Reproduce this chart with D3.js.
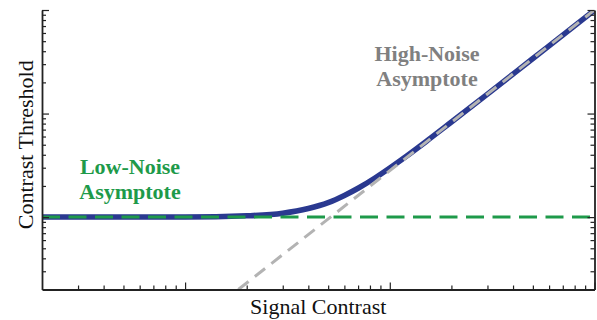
<!DOCTYPE html>
<html>
<head>
<meta charset="utf-8">
<script src="https://cdn.jsdelivr.net/npm/d3@7"></script>
<style>
  html, body { margin: 0; padding: 0; background: #fff; }
  svg { display: block; }
  text { font-family: "Liberation Serif", "Times New Roman", serif; }
</style>
</head>
<body>
<svg id="chart" width="597" height="320"></svg>
<script>
// Threshold-versus-contrast curve with its two asymptotes (log-log axes, unlabeled ticks)
const signalContrast    = [0.002, 0.005, 0.01, 0.02, 0.03, 0.04, 0.05, 0.06, 0.07, 0.085, 0.1, 0.12, 0.15, 0.2, 0.3, 0.5, 0.7, 1];
const contrastThreshold = [0.0100, 0.0100, 0.0100, 0.0103, 0.0109, 0.0121, 0.0138, 0.0162, 0.0190, 0.0240, 0.0298, 0.0385, 0.0535, 0.0828, 0.154, 0.340, 0.573, 0.995];

const lowNoiseX  = [0.002, 1];
const lowNoiseY  = [0.01, 0.01];
const highNoiseX = [0.0182, 1];
const highNoiseY = [0.002, 1];

const majorTicks = [0.01, 0.1, 1];
const minorTicks = [0.003, 0.004, 0.005, 0.006, 0.007, 0.008, 0.009,
                    0.02, 0.03, 0.04, 0.05, 0.06, 0.07, 0.08, 0.09,
                    0.2, 0.3, 0.4, 0.5, 0.6, 0.7, 0.8, 0.9];

const xDomain = [0.002, 1];
const yDomain = [0.002, 1];

const M = { left: 42, right: 594.5, top: 10, bottom: 289.5 };

const svg = d3.select("#chart");
const x = d3.scaleLog().domain(xDomain).range([M.left, M.right]);
const y = d3.scaleLog().domain(yDomain).range([M.bottom, M.top]);

svg.append("defs").append("clipPath").attr("id", "plot")
  .append("rect").attr("x", M.left).attr("y", M.top)
  .attr("width", M.right - M.left).attr("height", M.bottom - M.top);

const plot = svg.append("g").attr("clip-path", "url(#plot)");

// Full threshold curve
const curve = d3.line().x(d => x(d[0])).y(d => y(d[1])).curve(d3.curveMonotoneX);
plot.append("path")
  .datum(d3.zip(signalContrast, contrastThreshold))
  .attr("d", curve)
  .attr("fill", "none")
  .attr("stroke", "#2a3990")
  .attr("stroke-width", 5.5)
  .attr("stroke-linecap", "butt");

const straight = d3.line().x(d => x(d[0])).y(d => y(d[1]));

// Low-noise asymptote
plot.append("path")
  .datum(d3.zip(lowNoiseX, lowNoiseY))
  .attr("d", straight)
  .attr("fill", "none")
  .attr("stroke", "#1e9a4a")
  .attr("stroke-width", 3)
  .attr("stroke-dasharray", "18 8.5");

// High-noise asymptote
plot.append("path")
  .datum(d3.zip(highNoiseX, highNoiseY))
  .attr("d", straight)
  .attr("fill", "none")
  .attr("stroke", "#b3b3b3")
  .attr("stroke-width", 3)
  .attr("stroke-dasharray", "13 8");

// Axes: ticks point inward, no tick labels
const axisColor = "#222";
function styleAxis(g) {
  g.selectAll("path.domain").attr("stroke", axisColor).attr("stroke-width", 1.8);
  g.selectAll(".tick line").attr("stroke", axisColor).attr("stroke-width", 1.2);
  g.selectAll(".tick text").remove();
}

function drawAxis(maker, scale, transform) {
  const g1 = svg.append("g").attr("transform", transform)
    .call(maker(scale).tickValues(minorTicks).tickSize(-4).tickSizeOuter(0).tickFormat(""));
  styleAxis(g1);
  const g2 = svg.append("g").attr("transform", transform)
    .call(maker(scale).tickValues(majorTicks).tickSize(-7).tickSizeOuter(0).tickFormat(""));
  styleAxis(g2);
  g2.select("path.domain").remove();
}

drawAxis(d3.axisBottom, x, `translate(0,${M.bottom})`);
drawAxis(d3.axisLeft, y, `translate(${M.left},0)`);
drawAxis(d3.axisRight, y, `translate(${M.right},0)`);

// Axis titles
svg.append("text")
  .attr("x", (M.left + M.right) / 2).attr("y", 314)
  .attr("text-anchor", "middle")
  .attr("font-size", 22).attr("fill", "#111")
  .text("Signal Contrast");

svg.append("text")
  .attr("transform", `translate(33,${(M.top + M.bottom) / 2 - 5}) rotate(-90)`)
  .attr("text-anchor", "middle")
  .attr("font-size", 22).attr("fill", "#111")
  .text("Contrast Threshold");

// Asymptote annotations
function label(lines, cx, y0, color) {
  const t = svg.append("text")
    .attr("text-anchor", "middle")
    .attr("font-size", 22).attr("font-weight", "bold")
    .attr("fill", color);
  lines.forEach((s, i) => t.append("tspan").attr("x", cx).attr("y", y0 + i * 25).text(s));
}
label(["Low-Noise", "Asymptote"], 130, 174, "#1e9a4a");
label(["High-Noise", "Asymptote"], 427, 61, "#808080");
</script>
</body>
</html>
